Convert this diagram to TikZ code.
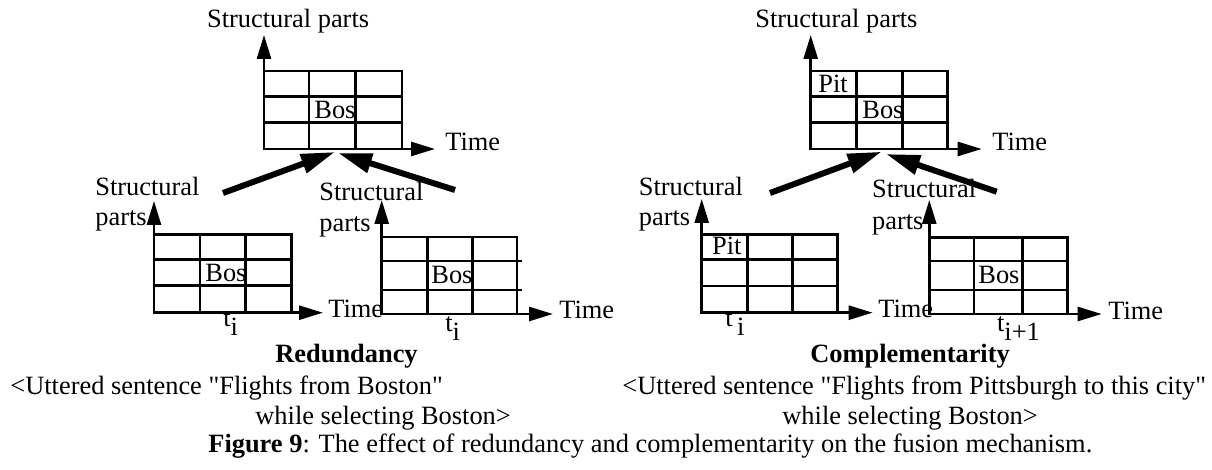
\documentclass[tikz,border=0pt]{standalone}
\usepackage{fontspec}
\setmainfont{Liberation Serif}
\newfontfamily\qfont{Liberation Serif}
\usetikzlibrary{arrows.meta}
\newcommand\fs{\fontsize{13.2pt}{15.8pt}\selectfont}
\newcommand\lowsub[1]{\raisebox{-4.6pt}{#1}}
\newcommand\sq{{\qfont"}}
\newcommand\cellgrid[8]{%
  \draw[gl] (#1,#2) rectangle (#3,#4);
  \draw[gl] (#5,#2) -- (#5,#4) (#6,#2) -- (#6,#4) (#1,#7) -- (#3,#7) (#1,#8) -- (#3,#8);}
\begin{document}
\begin{tikzpicture}[x=0.5pt,y=-0.5pt,
  gl/.style={line width=1.3pt},
  axis/.style={line width=1.3pt,-{Triangle[length=12pt,width=7pt]}},
  bigarrow/.style={line width=3pt,-{Triangle[length=17pt,width=9.5pt]}},
  txt/.style={anchor=base west,inner sep=0pt,font=\fs},
  btxt/.style={anchor=base west,inner sep=0pt,font=\fs\bfseries}]
\useasboundingbox (0,0) rectangle (1212,470);

% ---------- Redundancy: top ----------
\cellgrid{264}{71}{402}{149}{309}{355.7}{96.7}{122.7}
\coordinate (A0) at (264,149);
\coordinate (Ay) at (264,35);
\coordinate (Ax) at (435,149);
\draw[axis] (A0) -- (Ay);
\draw[axis] (A0) -- (Ax);
\node[txt] (Alab) at (206.7,27.5) {Structural parts};
\node[txt] (Atime) at (445,151) {Time};
\node[txt] (Abos) at (314,119) {Bos};

% ---------- Redundancy: bottom left ----------
\cellgrid{154}{234.3}{291.3}{312.7}{200}{245.7}{259.3}{285.7}
\coordinate (B0) at (154,312.7);
\coordinate (By) at (154,201);
\coordinate (Bx) at (323,312.7);
\draw[axis] (B0) -- (By);
\draw[axis] (B0) -- (Bx);
\node[txt] (Blab1) at (95,196) {Structural};
\node[txt] (Blab2) at (95,226) {parts};
\node[txt] (Btime) at (328,318) {Time};
\node[txt] (Bbos) at (205,281.7) {Bos};
\node[txt] (Bt) at (223,326.7) {t\lowsub{i}};

% ---------- Redundancy: bottom right ----------
\draw[gl] (381.7,237) rectangle (517,314);
\draw[gl] (427.7,237) -- (427.7,314) (472.7,237) -- (472.7,314)
          (381.7,261) -- (521.7,261) (381.7,290) -- (521.7,290);
\coordinate (C0) at (381.7,314);
\coordinate (Cy) at (381.7,200);
\coordinate (Cx) at (553,314);
\draw[axis] (C0) -- (Cy);
\draw[axis] (C0) -- (Cx);
\node[txt] (Clab1) at (319,200.5) {Structural};
\node[txt] (Clab2) at (319,232) {parts};
\node[txt] (Ctime) at (559,318.3) {Time};
\node[txt] (Cbos) at (431,283.3) {Bos};
\node[txt] (Ct) at (445,331.7) {t\lowsub{i}};

% big arrows (redundancy)
\coordinate (L1s) at (223,193);
\coordinate (L1e) at (335,152);
\coordinate (L2s) at (455,190);
\coordinate (L2e) at (338,153);
\draw[bigarrow] (L1s) -- (L1e);
\draw[bigarrow] (L2s) -- (L2e);

\node[btxt] (red) at (275,363) {Redundancy};

% ---------- Complementarity: top ----------
\cellgrid{810.7}{71}{947.7}{149}{856.7}{902.3}{96.7}{122.7}
\coordinate (D0) at (810.7,149);
\coordinate (Dy) at (810.7,35);
\coordinate (Dx) at (981.7,149);
\draw[axis] (D0) -- (Dy);
\draw[axis] (D0) -- (Dx);
\node[txt] (Dlab) at (755,27.5) {Structural parts};
\node[txt] (Dtime) at (992,151) {Time};
\node[txt] (Dpit) at (818,93) {Pit};
\node[txt] (Dbos) at (862,119) {Bos};

% ---------- Complementarity: bottom left ----------
\cellgrid{701.7}{234.3}{837.7}{312.7}{747.7}{792.7}{259.3}{286}
\coordinate (E0) at (701.7,312.7);
\coordinate (Ey) at (701.7,199);
\coordinate (Ex) at (872.7,312.7);
\draw[axis] (E0) -- (Ey);
\draw[axis] (E0) -- (Ex);
\node[txt] (Elab1) at (638.5,196) {Structural};
\node[txt] (Elab2) at (638.5,226) {parts};
\node[txt] (Etime) at (878,318) {Time};
\node[txt] (Epit) at (711.7,255) {Pit};
\node[txt] (Et) at (725,326.7) {t\,\lowsub{i}};

% ---------- Complementarity: bottom right ----------
\cellgrid{929.3}{237.3}{1067.3}{314}{974}{1022.3}{261}{290}
\coordinate (F0) at (929.3,314);
\coordinate (Fy) at (929.3,200);
\coordinate (Fx) at (1101.7,314);
\draw[axis] (F0) -- (Fy);
\draw[axis] (F0) -- (Fx);
\node[txt] (Flab1) at (871.7,198) {Structural};
\node[txt] (Flab2) at (871.7,230) {parts};
\node[txt] (Ftime) at (1108,320) {Time};
\node[txt] (Fbos) at (978,283.3) {Bos};
\node[txt] (Ft) at (996.7,331.7) {t\lowsub{i+1}};

% big arrows (complementarity)
\coordinate (R1s) at (770,193);
\coordinate (R1e) at (881.7,151.7);
\coordinate (R2s) at (996.7,191.7);
\coordinate (R2e) at (886,154);
\draw[bigarrow] (R1s) -- (R1e);
\draw[bigarrow] (R2s) -- (R2e);

\node[btxt] (comp) at (810,362.7) {Complementarity};

% ---------- sentences and caption ----------
\node[txt] (s1a) at (10,395) {<Uttered sentence \sq Flights from Boston\sq};
\node[txt] (s1b) at (255,425) {while selecting Boston>};
\node[txt] (s2a) at (622,395) {<Uttered sentence \sq Flights from Pittsburgh to this city\sq};
\node[txt] (s2b) at (782,425) {while selecting Boston>};
\node[txt] (cap) at (208,453) {\textbf{Figure 9}: The effect of redundancy and complementarity on the fusion mechanism.};
\end{tikzpicture}
\end{document}
